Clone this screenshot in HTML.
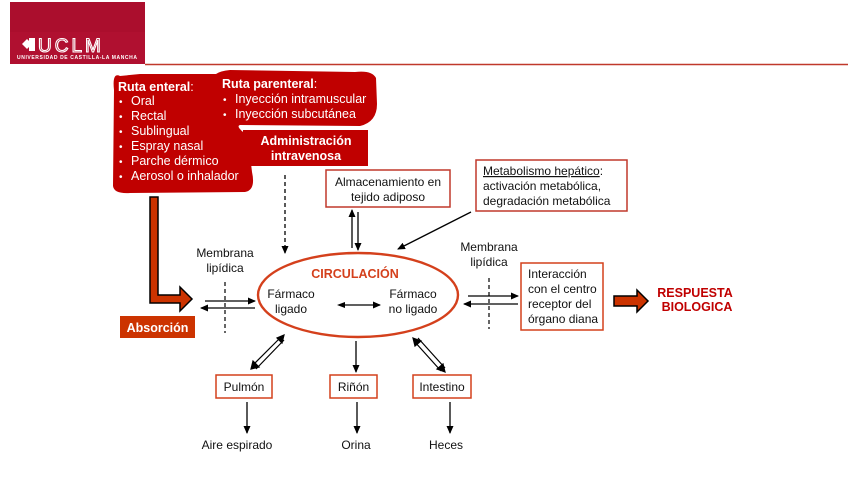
<!DOCTYPE html>
<html><head><meta charset="utf-8"><style>
body{margin:0;background:#fff;}
svg{display:block;font-family:"Liberation Sans",Arial,sans-serif;}
</style></head><body>
<svg width="848" height="477" viewBox="0 0 848 477" xmlns="http://www.w3.org/2000/svg">
<defs>
<marker id="ah" markerWidth="8" markerHeight="8" refX="7" refY="4" orient="auto" markerUnits="userSpaceOnUse"><path d="M0,0.5 L8,4 L0,7.5 Z" fill="#000"/></marker>
</defs>
<!-- logo -->
<rect x="10" y="2" width="135" height="62" fill="#b01030"/>
<rect x="10" y="2" width="135" height="30" fill="#a80e2c" opacity="0.6"/>
<path d="M22,44 L27,39 L32,44 L27,49 Z" fill="#fff"/>
<rect x="29" y="38" width="6" height="13" fill="#fff"/>
<text x="38" y="52" fill="none" stroke="#fff" stroke-width="1.1" font-size="19" letter-spacing="3">UCLM</text>
<text x="17" y="59" fill="#fff" font-size="5" font-weight="bold" textLength="120">UNIVERSIDAD DE CASTILLA-LA MANCHA</text>
<line x1="145" y1="64.5" x2="848" y2="64.5" stroke="#c0392b" stroke-width="1.5"/>

<!-- red blob -->
<path d="M120,76 Q112,72 114,90 L113,186 Q114,194 130,193 L245,192 Q256,190 252,172 L250,155 Q246,140 243,132 Q236,126 240,125 L360,126 Q377,122 377,104 L376,78 Q372,70 355,72 L230,70 Q220,71 216,74 L140,74 Z" fill="#c00000"/>
<rect x="243" y="130" width="125" height="36" fill="#c00000"/>
<g fill="#fff" font-size="12.5">
<text x="118" y="91" font-weight="bold">Ruta enteral<tspan font-weight="normal">:</tspan></text>
<g font-size="10"><text x="119" y="105">•</text><text x="119" y="120">•</text><text x="119" y="135">•</text><text x="119" y="150">•</text><text x="119" y="165">•</text><text x="119" y="180">•</text>
<text x="223" y="103">•</text><text x="223" y="118">•</text></g>
<text x="131" y="105">Oral</text>
<text x="131" y="120">Rectal</text>
<text x="131" y="135">Sublingual</text>
<text x="131" y="150">Espray nasal</text>
<text x="131" y="165">Parche dérmico</text>
<text x="131" y="180">Aerosol o inhalador</text>
<text x="222" y="88" font-weight="bold">Ruta parenteral<tspan font-weight="normal">:</tspan></text>
<text x="235" y="103">Inyección intramuscular</text>
<text x="235" y="118">Inyección subcutánea</text>
<text x="306" y="145" font-weight="bold" text-anchor="middle">Administración</text>
<text x="306" y="160" font-weight="bold" text-anchor="middle">intravenosa</text>
</g>

<!-- L arrow -->
<path d="M150,197 L158,197 L158,295 L180,295 L180,287 L192,299 L180,311 L180,303 L150,303 Z" fill="#cc3300" stroke="#000" stroke-width="1.5"/>
<rect x="120" y="316" width="75" height="22" fill="#cc3300"/>
<text x="157.5" y="332" fill="#fff" font-size="12.5" font-weight="bold" text-anchor="middle">Absorción</text>

<!-- dashed IV -->
<line x1="285" y1="175" x2="285" y2="253" stroke="#000" stroke-width="1.3" stroke-dasharray="4,3" marker-end="url(#ah)"/>

<!-- Almacenamiento -->
<rect x="326" y="170" width="124" height="37" fill="#fff" stroke="#c0392b" stroke-width="1.5"/>
<g font-size="12" fill="#111" text-anchor="middle">
<text x="388" y="186">Almacenamiento en</text>
<text x="388" y="201">tejido adiposo</text>
</g>
<line x1="352" y1="248" x2="352" y2="210" stroke="#000" stroke-width="1.3" marker-end="url(#ah)"/>
<line x1="358" y1="212" x2="358" y2="250" stroke="#000" stroke-width="1.3" marker-end="url(#ah)"/>

<!-- Metabolismo -->
<rect x="476" y="160" width="151" height="51" fill="#fff" stroke="#c0392b" stroke-width="1.5"/>
<g font-size="12" fill="#111">
<text x="483" y="175"><tspan text-decoration="underline">Metabolismo hepático</tspan>:</text>
<text x="483" y="190">activación metabólica,</text>
<text x="483" y="205">degradación metabólica</text>
</g>
<line x1="471" y1="212" x2="398" y2="249" stroke="#000" stroke-width="1.3" marker-end="url(#ah)"/>

<!-- ellipse -->
<ellipse cx="358" cy="295" rx="100" ry="42" fill="none" stroke="#d4401c" stroke-width="2.4"/>
<text x="355" y="278" fill="#d4401c" font-size="12.5" font-weight="bold" text-anchor="middle">CIRCULACIÓN</text>
<g font-size="12" fill="#111" text-anchor="middle">
<text x="291" y="298">Fármaco</text>
<text x="291" y="313">ligado</text>
<text x="413" y="298">Fármaco</text>
<text x="413" y="313">no ligado</text>
<text x="225" y="257">Membrana</text>
<text x="225" y="272">lipídica</text>
<text x="489" y="251">Membrana</text>
<text x="489" y="266">lipídica</text>
</g>
<line x1="340" y1="305" x2="380" y2="305" stroke="#000" stroke-width="1.3" marker-end="url(#ah)"/>
<path d="M337,305 L345,302 L345,308 Z" fill="#000"/>

<!-- left membrane -->
<line x1="225" y1="282" x2="225" y2="333" stroke="#000" stroke-width="1.2" stroke-dasharray="4,3"/>
<line x1="205" y1="301" x2="255" y2="301" stroke="#000" stroke-width="1.3" marker-end="url(#ah)"/>
<line x1="255" y1="308" x2="201" y2="308" stroke="#000" stroke-width="1.3" marker-end="url(#ah)"/>
<!-- right membrane -->
<line x1="489" y1="278" x2="489" y2="329" stroke="#000" stroke-width="1.2" stroke-dasharray="4,3"/>
<line x1="468" y1="296" x2="518" y2="296" stroke="#000" stroke-width="1.3" marker-end="url(#ah)"/>
<line x1="518" y1="304" x2="464" y2="304" stroke="#000" stroke-width="1.3" marker-end="url(#ah)"/>

<!-- Interacción -->
<rect x="521" y="263" width="82" height="67" fill="#fff" stroke="#d4401c" stroke-width="1.5"/>
<g font-size="12" fill="#111">
<text x="528" y="278">Interacción</text>
<text x="528" y="293">con el centro</text>
<text x="528" y="308">receptor del</text>
<text x="528" y="323">órgano diana</text>
</g>
<path d="M614,296 L637,296 L637,290 L648,301 L637,312 L637,306 L614,306 Z" fill="#cc3300" stroke="#000" stroke-width="1.5"/>
<g font-size="12.5" font-weight="bold" fill="#c00000" text-anchor="middle">
<text x="695" y="297">RESPUESTA</text>
<text x="697" y="311">BIOLOGICA</text>
</g>

<!-- hollow double arrows -->
<g stroke="#000" stroke-width="1.2" fill="#fff">
<line x1="281" y1="337" x2="252" y2="366"/>
<line x1="284" y1="340" x2="256" y2="369"/>
<path d="M251,369 L253,361 L259,367 Z" fill="#000"/>
<path d="M284,335 L282,343 L277,338 Z" fill="#000"/>
<line x1="414" y1="341" x2="441" y2="371"/>
<line x1="418" y1="338" x2="445" y2="368"/>
<path d="M413,338 L421,341 L415,346 Z" fill="#000"/>
<path d="M445,372 L437,369 L443,364 Z" fill="#000"/>
</g>
<line x1="356" y1="341" x2="356" y2="372" stroke="#000" stroke-width="1.3" marker-end="url(#ah)"/>

<!-- organ boxes -->
<g fill="#fff" stroke="#d4401c" stroke-width="1.5">
<rect x="216" y="375" width="56" height="23"/>
<rect x="330" y="375" width="47" height="23"/>
<rect x="413" y="375" width="58" height="23"/>
</g>
<g font-size="12" fill="#111" text-anchor="middle">
<text x="244" y="391">Pulmón</text>
<text x="353.5" y="391">Riñón</text>
<text x="442" y="391">Intestino</text>
<text x="237" y="449">Aire espirado</text>
<text x="356" y="449">Orina</text>
<text x="446" y="449">Heces</text>
</g>
<g stroke="#000" stroke-width="1.3">
<line x1="247" y1="402" x2="247" y2="433" marker-end="url(#ah)"/>
<line x1="357" y1="402" x2="357" y2="433" marker-end="url(#ah)"/>
<line x1="450" y1="402" x2="450" y2="433" marker-end="url(#ah)"/>
</g>
</svg>
</body></html>
